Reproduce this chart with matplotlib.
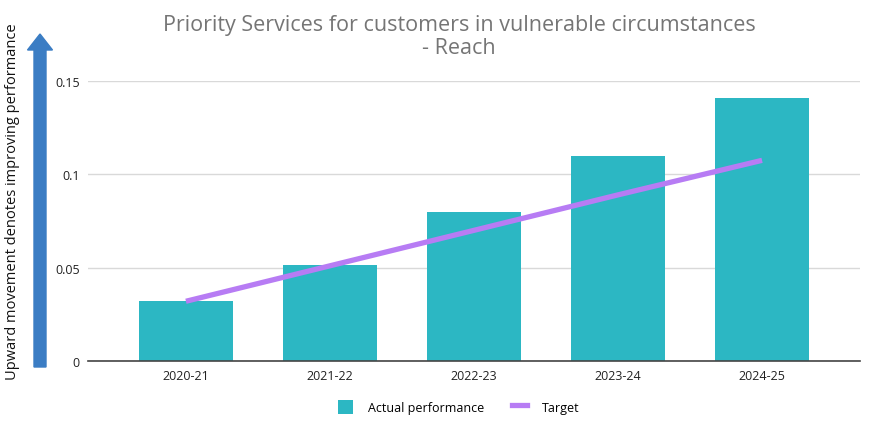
import matplotlib
matplotlib.use("Agg")
import matplotlib.pyplot as plt
from matplotlib.patches import FancyArrow, Patch
from matplotlib.lines import Line2D

categories = ["2020-21", "2021-22", "2022-23", "2023-24", "2024-25"]
actual = [0.0323, 0.0516, 0.0796, 0.1096, 0.1407]
target = [0.032, 0.051, 0.070, 0.089, 0.1075]
yticks = [0, 0.05, 0.1, 0.15]
ytick_labels = ["0", "0.05", "0.1", "0.15"]

TEAL = "#2cb7c3"
PURPLE = "#b77cf4"
FONT = "Open Sans"

plt.rcParams['font.family'] = [FONT, 'DejaVu Sans']

fig = plt.figure(figsize=(8.89, 4.31), dpi=100)
ax = fig.add_axes([88/889, 1-362/431, (860-88)/889, (362-82)/431])

x = list(range(len(categories)))
ax.bar(x, actual, width=0.65, color=TEAL, zorder=2)
ax.plot(x, target, color=PURPLE, lw=3.8, solid_capstyle='butt', zorder=3)

ax.set_xlim(-0.68, 4.68)
ax.set_ylim(0, 0.15)
ax.set_yticks(yticks)
ax.set_yticklabels(ytick_labels)
ax.set_xticks(x)
ax.set_xticklabels(categories)
ax.tick_params(axis='both', length=0, labelsize=9, colors="#222222")
ax.tick_params(axis='x', pad=6)
ax.tick_params(axis='y', pad=6)
ax.grid(axis='y', color="#d9d9d9", lw=1, zorder=0)
ax.set_axisbelow(True)
for s in ["top", "right", "left"]:
    ax.spines[s].set_visible(False)
ax.spines["bottom"].set_color("#444444")
ax.spines["bottom"].set_linewidth(1.2)
ax.spines["bottom"].set_zorder(4)

fig.text(459/889, 1-25/431, "Priority Services for customers in vulnerable circumstances",
         ha='center', va='center', fontsize=15.5, color="#757575")
fig.text(459/889, 1-48/431, "- Reach", ha='center', va='center', fontsize=15.5, color="#757575")

arrow = FancyArrow(0.40, (431-368)/100, 0, (368-35)/100, width=0.12,
                   head_width=0.25, head_length=0.16, length_includes_head=True,
                   color="#3b7dc4", transform=fig.dpi_scale_trans)
fig.add_artist(arrow)
fig.text(13/889, 1-202/431, "Upward movement denotes improving performance",
         rotation=90, ha='center', va='center', fontsize=10.5, color="#111111")

handles = [Patch(facecolor=TEAL, edgecolor='none'),
           Line2D([0], [0], color=PURPLE, lw=3.8)]
fig.legend(handles, ["Actual performance", "Target"], loc='center',
           bbox_to_anchor=(459/889, 1-408/431), ncol=2, frameon=False,
           fontsize=9, handlelength=1.2, handleheight=1.4, columnspacing=2.2,
           handletextpad=1.2)

fig.savefig("out.png", dpi=100)
